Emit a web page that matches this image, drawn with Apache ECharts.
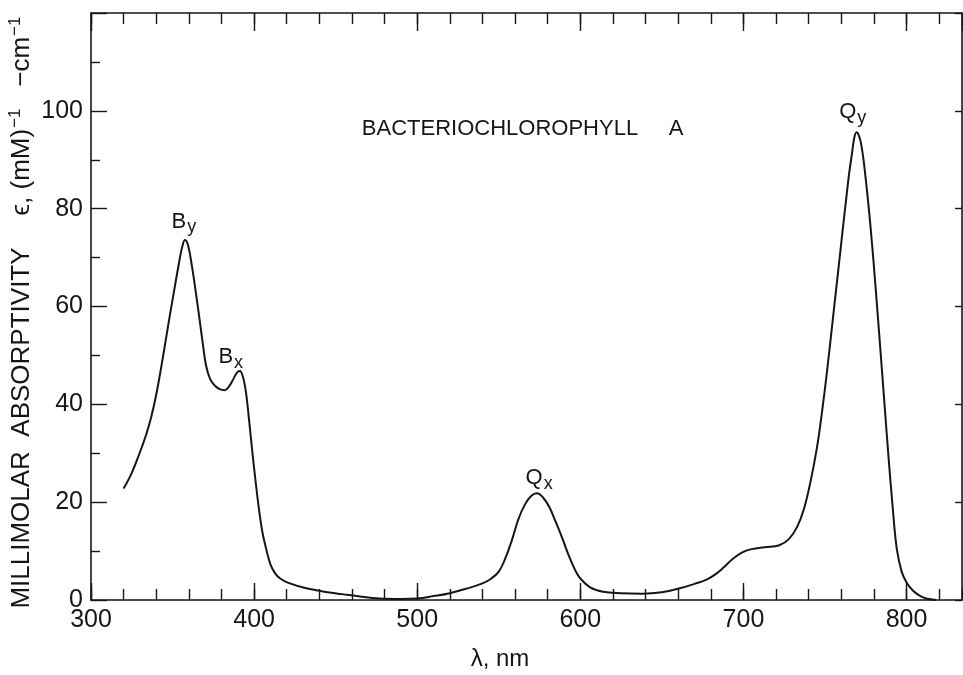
<!DOCTYPE html>
<html>
<head>
<meta charset="utf-8">
<script src="https://cdn.jsdelivr.net/npm/echarts@6/dist/echarts.min.js"></script>
<style>
  html, body { margin: 0; padding: 0; background: #ffffff; }
  #chart { width: 963px; height: 675px; }
</style>
</head>
<body>
<div id="chart"></div>
<script>
// Absorption spectrum of bacteriochlorophyll a (wavelength in nm, ε in mM^-1 cm^-1)
const wavelength = [
  320, 325, 330, 334, 337, 340, 343, 346, 348.5, 351, 354, 356, 357.6, 359.5, 362, 364,
  366.5, 368.5, 370.5, 373, 376, 379, 382, 384.5, 387, 389.5, 391.2, 393, 395, 397,
  399, 401, 403, 405, 407, 410, 413, 416, 421, 432, 445, 454, 465, 477, 490, 500,
  510, 520, 530, 540, 545, 550, 554, 558, 562, 566, 570, 573.5, 577, 581, 585, 589,
  593, 597, 600, 606, 614, 625, 638, 650, 661, 670, 677, 683, 688, 693, 699, 705, 713, 722,
  728, 733, 737, 741, 745, 748, 751, 755, 759, 763, 766, 769.5, 772, 775, 778, 781,
  784, 786.5, 789, 791.5, 794, 797, 800, 804, 808, 812, 818
];
const absorptivity = [
  22.8, 26.0, 30.2, 34.0, 37.5, 42.0, 47.5, 53.5, 58.5, 63.3, 69.0, 72.3, 73.6, 72.5, 68.0, 63.5,
  57.5, 52.5, 48.0, 45.2, 43.8, 43.1, 42.9, 43.6, 45.0, 46.5, 46.8, 45.8, 42.5, 36.5,
  30.0, 24.0, 18.5, 14.0, 11.0, 7.3, 5.4, 4.4, 3.5, 2.4, 1.6, 1.2, 0.7, 0.3, 0.2, 0.3,
  0.8, 1.4, 2.3, 3.4, 4.3, 5.8, 8.5, 12.2, 16.5, 19.5, 21.3, 21.8, 21.0, 19.0, 15.9, 12.6,
  9.0, 6.0, 4.4, 2.6, 1.7, 1.4, 1.3, 1.6, 2.4, 3.3, 4.1, 5.3, 6.7, 8.3, 9.7, 10.4, 10.8, 11.2,
  12.5, 15.0, 18.5, 24.0, 31.0, 38.0, 46.0, 58.0, 70.0, 82.0, 90.0, 95.6, 93.5, 86.0, 76.0, 64.0,
  51.0, 40.0, 29.0, 19.0, 10.5, 5.8, 3.6, 1.9, 0.9, 0.3, 0.0
];

// Band assignments marked above the peaks
const bandLetter = ['B', 'B', 'Q', 'Q'];
const bandPolarization = ['y', 'x', 'x', 'y'];
const bandWavelength = [357.6, 391.2, 573.5, 769.5];
const bandAbsorptivity = [73.6, 46.8, 21.8, 95.6];

const titleText = 'BACTERIOCHLOROPHYLL';
const titleSuffix = 'A';
const xAxisTitle = 'λ, nm';
const yAxisTitleWords = 'MILLIMOLAR  ABSORPTIVITY';

const xMin = 300, xMax = 834, yMin = 0, yMax = 120;

const INK = '#161616';
const TEXT_FONT = '"Liberation Sans", Arial, sans-serif';
const DIGIT_FONT = '"Liberation Sans", Arial, sans-serif';

const chart = echarts.init(document.getElementById('chart'), null, { renderer: 'canvas' });

const spectrum = wavelength.map((w, i) => [w, absorptivity[i]]);

const bandLabelPlacement = [
  { dx: -1, dist: 6 },
  { dx: -9, dist: 2 },
  { dx: 2, dist: 3 },
  { dx: -4, dist: 8 }
];

const bandPoints = bandWavelength.map((w, i) => ({
  value: [w, bandAbsorptivity[i]],
  label: {
    formatter: '{m|' + bandLetter[i] + '}{s|' + bandPolarization[i] + '}',
    offset: [bandLabelPlacement[i].dx, 0],
    distance: bandLabelPlacement[i].dist
  }
}));

function xAxisDef(position, interval, tickLen, withLine, withLabel) {
  return {
    type: 'value', position: position, min: xMin, max: xMax, interval: interval,
    axisLine: { show: withLine, onZero: false, lineStyle: { color: INK, width: 1.6 } },
    axisTick: { show: true, inside: true, length: tickLen, lineStyle: { color: INK, width: 1.4 } },
    axisLabel: withLabel ? {
      show: true, margin: 8, color: INK, fontSize: 25, fontFamily: DIGIT_FONT,
      showMaxLabel: false
    } : { show: false },
    splitLine: { show: false }
  };
}

const option = {
  animation: false,
  backgroundColor: '#ffffff',
  grid: { left: 91, right: 1, top: 13, bottom: 75, containLabel: false },
  xAxis: [
    xAxisDef('bottom', 100, 17, true, true),
    xAxisDef('bottom', 20, 11, false, false),
    xAxisDef('top', 100, 18, true, false),
    xAxisDef('top', 20, 11, false, false)
  ],
  yAxis: [
    {
      type: 'value', position: 'left', min: yMin, max: yMax, interval: 20,
      axisLine: { show: true, onZero: false, lineStyle: { color: INK, width: 1.6 } },
      axisTick: { show: true, inside: true, length: 16, lineStyle: { color: INK, width: 1.4 } },
      minorTick: { show: true, splitNumber: 2, length: 9, lineStyle: { color: INK, width: 1.4 } },
      axisLabel: {
        show: true, margin: 8, color: INK, fontSize: 25, fontFamily: DIGIT_FONT,
        formatter: v => (v > 100 ? '' : String(v))
      },
      splitLine: { show: false }
    },
    {
      type: 'value', position: 'right', min: yMin, max: yMax, interval: 20,
      axisLine: { show: true, onZero: false, lineStyle: { color: INK, width: 1.6 } },
      axisTick: { show: true, inside: true, length: 7, lineStyle: { color: INK, width: 1.4 } },
      axisLabel: { show: false },
      splitLine: { show: false }
    }
  ],
  series: [
    {
      type: 'line',
      xAxisIndex: 0, yAxisIndex: 0,
      data: spectrum,
      showSymbol: false, symbol: 'none',
      smooth: 0.4,
      lineStyle: { color: INK, width: 2 },
      z: 3
    },
    {
      type: 'scatter',
      xAxisIndex: 0, yAxisIndex: 0,
      data: bandPoints,
      symbolSize: 1,
      silent: true,
      itemStyle: { color: 'rgba(0,0,0,0)', opacity: 1 },
      label: {
        show: true, position: 'top', color: INK, opacity: 1,
        rich: {
          m: { fontSize: 22, fontFamily: TEXT_FONT, color: INK, lineHeight: 24 },
          s: { fontSize: 18, fontFamily: TEXT_FONT, color: INK, lineHeight: 24, padding: [12, 0, 0, 1] }
        }
      },
      z: 4
    }
  ],
  graphic: [
    {
      type: 'text', x: 500, y: 129,
      style: { text: titleText, align: 'center', verticalAlign: 'middle', fontSize: 22, fontFamily: TEXT_FONT, fill: INK }
    },
    {
      type: 'text', x: 676, y: 129,
      style: { text: titleSuffix, align: 'center', verticalAlign: 'middle', fontSize: 22, fontFamily: TEXT_FONT, fill: INK }
    },
    {
      type: 'text', x: 500, y: 659,
      style: { text: xAxisTitle, align: 'center', verticalAlign: 'middle', fontSize: 24, fontFamily: TEXT_FONT, fill: INK }
    },
    {
      type: 'text', x: 22, y: 428, rotation: Math.PI / 2,
      style: { text: yAxisTitleWords, align: 'center', verticalAlign: 'middle', fontSize: 26, fontFamily: TEXT_FONT, fill: INK }
    },
    {
      type: 'text', x: 22, y: 116, rotation: Math.PI / 2,
      style: {
        text: '{a|ϵ, (mM)}{s|−1}{a|   −cm}{s|−1}',
        align: 'center', verticalAlign: 'middle', fill: INK,
        rich: {
          a: { fontSize: 26, fontFamily: TEXT_FONT, fill: INK, lineHeight: 30 },
          s: { fontSize: 17, fontFamily: TEXT_FONT, fill: INK, lineHeight: 30, padding: [0, 0, 14, 1] }
        }
      }
    }
  ]
};

chart.setOption(option);
</script>
</body>
</html>
